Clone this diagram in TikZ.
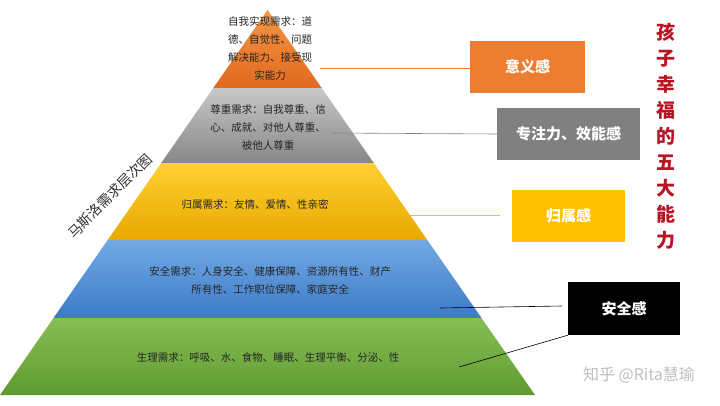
\documentclass[tikz,border=0pt]{standalone}
\usepackage{fontspec}
\setmainfont{Noto Sans CJK SC}
\begin{document}
\begin{tikzpicture}[x=1pt,y=-1pt,
  lvl/.style={font=\fontsize{10.5}{18}\selectfont, align=center, text=black!85},
  tag/.style={minimum height=52pt, font=\bfseries\fontsize{15}{18}\selectfont, text=white, inner sep=0pt},
  link/.style={line width=0.6pt}]
\useasboundingbox (0,0) rectangle (720,405);
\fill[white] (0,0) rectangle (720,405);
% bands
\shade[top color={rgb,255:red,245;green,150;blue,70}, bottom color={rgb,255:red,225;green,105;blue,30}] (267.5,10) -- (321.7,88) -- (213.3,88) -- cycle;
\shade[top color={rgb,255:red,200;green,200;blue,200}, bottom color={rgb,255:red,135;green,135;blue,135}] (213.3,88) -- (321.7,88) -- (373.8,163) -- (161.2,163) -- cycle;
\shade[top color={rgb,255:red,255;green,208;blue,50}, bottom color={rgb,255:red,232;green,168;blue,0}] (161.2,163) -- (373.8,163) -- (427.3,240) -- (107.7,240) -- cycle;
\shade[top color={rgb,255:red,115;green,170;blue,228}, bottom color={rgb,255:red,60;green,122;blue,200}] (107.7,240) -- (427.3,240) -- (481.5,318) -- (53.5,318) -- cycle;
\shade[top color={rgb,255:red,135;green,190;blue,85}, bottom color={rgb,255:red,95;green,155;blue,50}] (53.5,318) -- (481.5,318) -- (535,395) -- (0,395) -- cycle;
% level texts
\node[lvl] (t1) at (270,48) {自我实现需求：道\\德、自觉性、问题\\解决能力、接受现\\实能力};
\node[lvl] (t2) at (268,127) {尊重需求：自我尊重、信\\心、成就、对他人尊重、\\被他人尊重};
\node[lvl] (t3) at (255,204) {归属需求：友情、爱情、性亲密};
\node[lvl] (t4) at (270,280) {安全需求：人身安全、健康保障、资源所有性、财产\\所有性、工作职位保障、家庭安全};
\node[lvl] (t5) at (268,357) {生理需求：呼吸、水、食物、睡眠、生理平衡、分泌、性};
% side label
\node[rotate=45, font=\fontsize{14}{16}\selectfont, text=black!80] (side) at (110,196) {马斯洛需求层次图};
% tags
\node[tag, fill={rgb,255:red,237;green,125;blue,49}, minimum width=115pt] (b1) at (527.5,66.5) {意义感};
\node[tag, fill={rgb,255:red,128;green,128;blue,128}, minimum width=143pt] (b2) at (568.5,134) {专注力、效能感};
\node[tag, fill={rgb,255:red,255;green,192;blue,0}, minimum width=113pt] (b3) at (568.5,216) {归属感};
\node[tag, fill=black, minimum width=112pt, minimum height=53pt] (b4) at (624,308.5) {安全感};
% connectors
\coordinate (c1) at (320,68);
\coordinate (c2) at (332,133);
\coordinate (c3) at (410,215);
\coordinate (c4) at (440,308);
\coordinate (c5) at (459,367);
\draw[link, draw={rgb,255:red,237;green,125;blue,49}] (c1) -- (b1.west |- c1);
\draw[link, draw=gray] (c2) -- (b2.west);
\draw[link, draw={rgb,255:red,255;green,192;blue,0}] (c3) -- (500,215);
\draw[link, draw=black] (c4) -- (562,306);
\draw[link, draw=black] (c5) -- (b4.south west);
% red title
\node[font=\bfseries\fontsize{19}{26}\selectfont, text={rgb,255:red,185;green,20;blue,35}, align=center] (title) at (666,136) {孩\\子\\幸\\福\\的\\五\\大\\能\\力};
% watermark
\node[font=\fontsize{16}{18}\selectfont, text=black!25] (wm) at (639,375) {知乎 @Rita慧瑜};
\end{tikzpicture}
\end{document}
